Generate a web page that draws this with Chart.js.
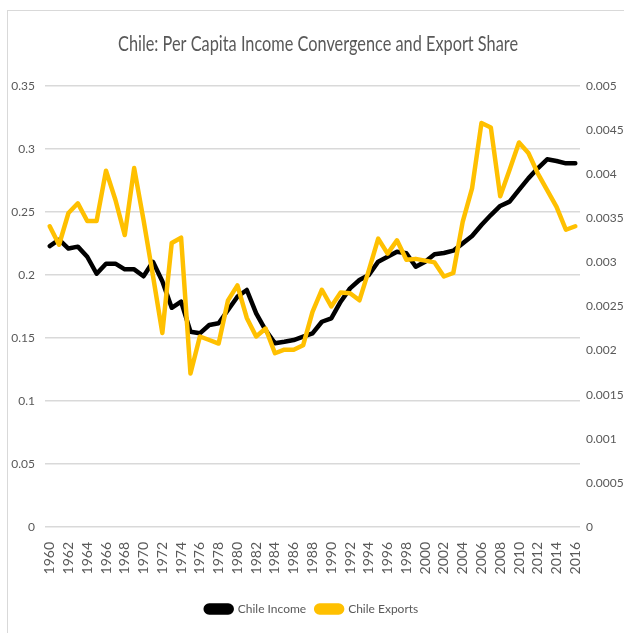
<!DOCTYPE html>
<html>
<head>
<meta charset="utf-8">
<script src="https://cdn.jsdelivr.net/npm/chart.js@4/dist/chart.umd.min.js"></script>
<style>
  html, body { margin: 0; padding: 0; background: #fff; overflow: hidden; }
  #wrap { position: relative; width: 624px; height: 633px; }
  #frame { position: absolute; left: 7px; top: 10px; width: 700px; height: 700px; border: 1px solid #d9d9d9; }
  canvas { position: absolute; left: 0; top: 0; }
</style>
</head>
<body>
<div id="wrap">
  <div id="frame"></div>
  <canvas id="myChart" width="624" height="633"></canvas>
</div>
<script>
const years = [];
for (let y = 1960; y <= 2016; y++) years.push(String(y));

const chileIncome = [
  0.223, 0.228, 0.221, 0.2225, 0.2145, 0.201, 0.209, 0.209, 0.2045, 0.2045, 0.199, 0.2105, 0.195, 0.174,
  0.1789, 0.155, 0.1537, 0.1603, 0.1617, 0.1722, 0.1828, 0.1881, 0.1696, 0.1563, 0.1458, 0.147, 0.1484, 0.151,
  0.1537, 0.1629, 0.1656, 0.1788, 0.1894, 0.196, 0.2, 0.2106, 0.2145, 0.2185, 0.2172, 0.2066, 0.2106, 0.2165,
  0.2175, 0.2193, 0.2251, 0.231, 0.2397, 0.2476, 0.2548, 0.2582, 0.2675, 0.2767, 0.2847, 0.2918, 0.2905, 0.2886, 0.2886
];

const chileExports = [
  0.00341, 0.0032, 0.00356, 0.00367, 0.00347, 0.00347, 0.00404, 0.00371, 0.00331, 0.00407, 0.00348, 0.00285, 0.0022, 0.00322,
  0.00328, 0.00174, 0.00216, 0.00212, 0.00208, 0.00257, 0.00274, 0.00237, 0.00216, 0.00225, 0.00197, 0.00201, 0.00201, 0.00206,
  0.00244, 0.00269, 0.0025, 0.00266, 0.00265, 0.00257, 0.00291, 0.00327, 0.0031, 0.00325, 0.00303, 0.00304, 0.00302, 0.003,
  0.00284, 0.00288, 0.00346, 0.00384, 0.00458, 0.00453, 0.00375, 0.00405, 0.00436, 0.00424, 0.00401, 0.00382, 0.00363, 0.00337, 0.00341
];

const leftTicks = [0, 0.05, 0.1, 0.15, 0.2, 0.25, 0.3, 0.35];
const rightTicks = [0, 0.0005, 0.001, 0.0015, 0.002, 0.0025, 0.003, 0.0035, 0.004, 0.0045, 0.005];

const chartTitle = 'Chile: Per Capita Income Convergence and Export Share';
const fontFamily = 'Lato, "Open Sans", sans-serif';
const textColor = '#595959';

// title is squeezed sideways like the original (Calibri-looking) one
const narrowTitle = {
  id: 'narrowTitle',
  afterDraw(chart) {
    const c = chart.ctx;
    c.save();
    c.font = '22px ' + fontFamily;
    c.fillStyle = textColor;
    c.textAlign = 'center';
    c.textBaseline = 'middle';
    const w = c.measureText(chartTitle).width;
    c.translate(318, 44);
    c.scale(400 / w, 1);
    c.fillText(chartTitle, 0, 0);
    c.restore();
  },
};

var ctx = document.getElementById('myChart').getContext('2d');
let myChart = new Chart(ctx, {
  type: 'line',
  data: {
    labels: years,
    datasets: [
      {
        label: 'Chile Income',
        data: chileIncome,
        borderColor: '#000000',
        backgroundColor: '#000000',
        borderWidth: 4.5,
        yAxisID: 'y',
        order: 1,
      },
      {
        label: 'Chile Exports',
        data: chileExports,
        borderColor: '#ffc000',
        backgroundColor: '#ffc000',
        borderWidth: 4.5,
        yAxisID: 'y1',
        order: 0,
      },
    ],
  },
  plugins: [narrowTitle],
  options: {
    responsive: false,
    animation: false,
    events: [],
    elements: {
      point: { radius: 0 },
      line: { tension: 0, fill: false, borderJoinStyle: 'round', borderCapStyle: 'round' },
    },
    layout: { padding: { top: 86, bottom: 8, left: 0, right: 0 } },
    plugins: {
      title: { display: false },
      legend: {
        position: 'bottom',
        labels: {
          sort: (a, b) => a.datasetIndex - b.datasetIndex,
          color: textColor,
          font: { family: fontFamily, size: 12 },
          boxWidth: 26,
          boxHeight: 7,
          useBorderRadius: true,
          borderRadius: 3.5,
          padding: 10,
        },
      },
      tooltip: { enabled: false },
    },
    scales: {
      x: {
        offset: true,
        grid: { display: false },
        border: { display: false },
        ticks: {
          color: textColor,
          font: { family: fontFamily, size: 14 },
          autoSkip: false,
          maxRotation: 90,
          minRotation: 90,
          padding: 7,
          callback: function (val, i) { return i % 2 === 0 ? this.getLabelForValue(val) : ''; },
        },
        afterFit: (scale) => { scale.height = 66; },
      },
      y: {
        position: 'left',
        min: 0,
        max: 0.35,
        afterBuildTicks: (scale) => { scale.ticks = leftTicks.map((v) => ({ value: v })); },
        grid: { color: '#d9d9d9', lineWidth: 1.5, drawTicks: false },
        border: { display: false },
        ticks: {
          color: textColor,
          font: { family: fontFamily, size: 12 },
          padding: 10,
          callback: (v) => String(v),
        },
        afterFit: (scale) => { scale.width = 45; },
      },
      y1: {
        position: 'right',
        min: 0,
        max: 0.005,
        afterBuildTicks: (scale) => { scale.ticks = rightTicks.map((v) => ({ value: v })); },
        grid: { display: false, drawTicks: false },
        border: { display: false },
        ticks: {
          color: textColor,
          font: { family: fontFamily, size: 12 },
          padding: 6,
          callback: (v) => String(v),
        },
        afterFit: (scale) => { scale.width = 44; },
      },
    },
  },
});
</script>
</body>
</html>
